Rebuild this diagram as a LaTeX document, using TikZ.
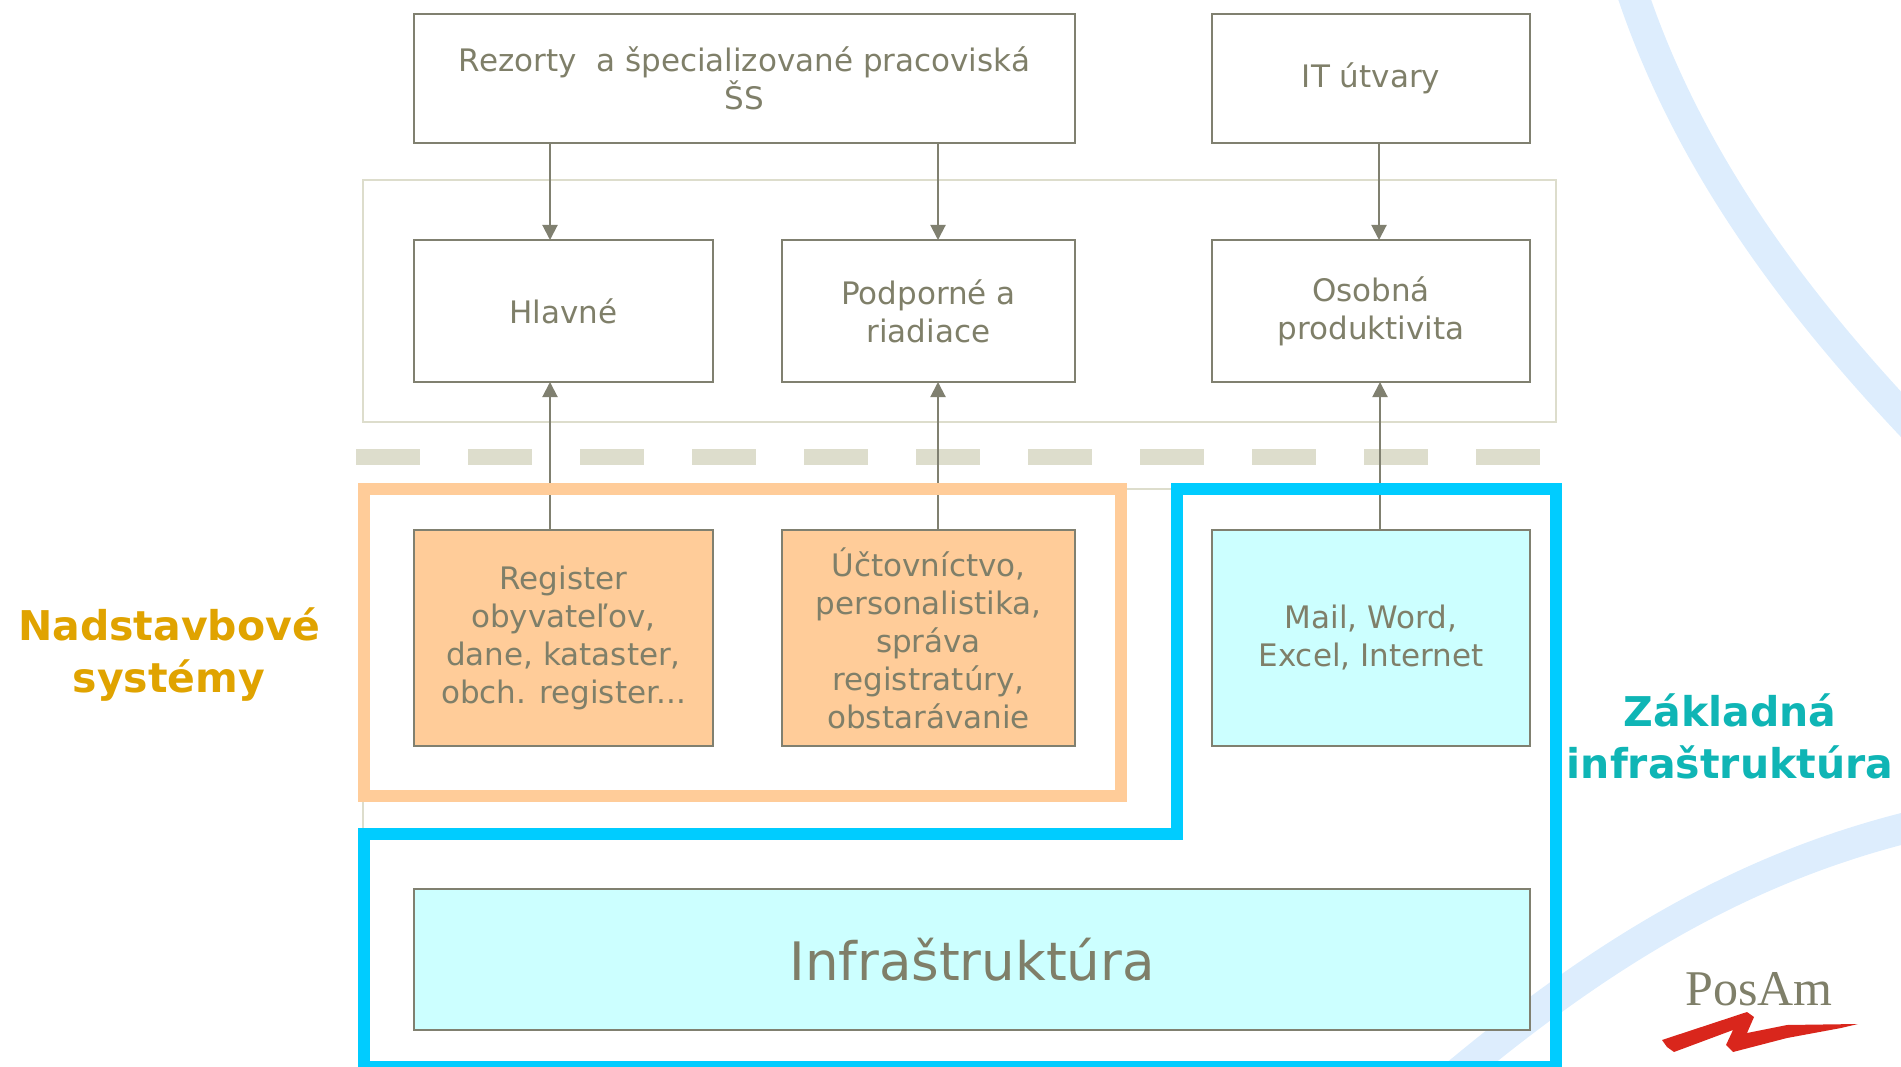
\documentclass[tikz,border=0pt]{standalone}
\usepackage{fontspec}
\setmainfont{DejaVu Sans}
\newfontfamily\logofont{Liberation Serif}
\usetikzlibrary{positioning}
\usetikzlibrary{arrows.meta}
\definecolor{sivaText}{HTML}{7F7F69}
\definecolor{sivaCiara}{HTML}{808070}
\definecolor{piesok}{HTML}{DDDDCC}
\definecolor{oranz}{HTML}{FFCC99}
\definecolor{tyrkys}{HTML}{CCFFFF}
\definecolor{modra}{HTML}{00CCFF}
\definecolor{oblúk}{HTML}{DDEDFD}
\definecolor{zlta}{HTML}{E0A300}
\definecolor{zelena}{HTML}{0FB5B5}
\begin{document}
\begin{tikzpicture}[x=1pt,y=-1pt,align=center,outer sep=0pt,inner sep=0pt,
box/.style={draw=sivaCiara,line width=2pt,text=sivaText,font=\fontsize{31}{38}\selectfont,minimum height=142pt},
boxO/.style={box,fill=oranz,minimum height=216pt},
boxT/.style={box,fill=tyrkys,minimum height=216pt},
sipka/.style={draw=sivaCiara,line width=2pt,-{Triangle[length=15pt,width=15pt]}},
tenky/.style={draw=piesok,line width=2pt},
pas/.style={draw=oblúk,line width=31pt},
titulok/.style={font=\fontsize{41}{52}\selectfont\bfseries}
]
\useasboundingbox (0,0) rectangle (1901,1067);
%-- background
\draw[pas] (1625,-30) .. controls (1680,150) and (1790,300) .. (1930,445);
\draw[pas] (1930,822) .. controls (1740,865) and (1590,960) .. (1430,1097);
\draw[tenky] (363,180) rectangle (1556,422);
\draw[tenky] (363,489) rectangle (1556,1067);
\draw[draw=piesok,line width=16pt,dash pattern=on 64pt off 48pt] (356,457) -- (1540,457);
%-- top row
\node[box,anchor=north west,minimum width=661pt,minimum height=129pt](rezorty) at (414,14){Rezorty~ a špecializované pracoviská\\ŠS};
%-- middle row
\node[box,minimum width=299pt,below=97pt of rezorty.south west,anchor=north west](hlavne){Hlavné};
\node[box,minimum width=293pt,right=69pt of hlavne](podporne){Podporné a\\riadiace};
\node[box,minimum width=318pt,right=137pt of podporne](osobna){Osobná\\produktivita};
\node[box,minimum width=318pt,minimum height=129pt,above=97pt of osobna](it){IT útvary};
%-- lower row
\node[boxO,minimum width=299pt,below=148pt of hlavne](register){Register\\obyvateľov,\\dane, kataster,\\obch. register...};
\node[boxO,minimum width=293pt,below=148pt of podporne](uctovnictvo){Účtovníctvo,\\personalistika,\\správa\\registratúry,\\obstarávanie};
\node[boxT,minimum width=318pt,below=148pt of osobna](mail){Mail, Word,\\Excel, Internet};
\node[box,fill=tyrkys,minimum width=1116pt,minimum height=141pt,font=\fontsize{53}{60}\selectfont,below=143pt of register.south west,anchor=north west](infra){Infraštruktúra};
%-- arrows
\coordinate (sa) at (550,0);
\coordinate (sb) at (938,0);
\coordinate (sc) at (1379,0);
\coordinate (sd) at (1380,0);
\draw[sipka] (sa |- rezorty.south) -- (sa |- hlavne.north);
\draw[sipka] (sb |- rezorty.south) -- (sb |- podporne.north);
\draw[sipka] (sc |- it.south) -- (sc |- osobna.north);
\draw[sipka] (sa |- register.north) -- (sa |- hlavne.south);
\draw[sipka] (sb |- uctovnictvo.north) -- (sb |- podporne.south);
\draw[sipka] (sd |- mail.north) -- (sd |- osobna.south);
%-- frames
\draw[draw=oranz,line width=12pt] (364,489) rectangle (1121,796);
\draw[draw=modra,line width=12pt] (1177,489) -- (1556,489) (1556,483) -- (1556,1073) (1562,1067) -- (358,1067) (364,1073) -- (364,828) (358,834) -- (1177,834) (1177,840) -- (1177,483);
%-- labels
\node[titulok,text=zlta](nadstavba) at (169,655){Nadstavbové\\systémy};
\node[titulok,text=zelena](zakladna) at (1730,736){Základná\\infraštruktúra};
%-- logo
\node[text=sivaText,font=\logofont\fontsize{50}{50}\selectfont,anchor=base](posam) at (1759,1005){PosAm};
\fill[fill={rgb,255:red,217;green,38;blue,28}] (1662,1040) -- (1747,1012) -- (1754,1017) -- (1747,1033) -- (1787,1025) -- (1858,1024) -- (1841,1028) -- (1787,1038) -- (1733,1052) -- (1726,1045) -- (1733,1030) -- (1674,1052) -- (1667,1047) -- cycle;
\end{tikzpicture}
\end{document}
